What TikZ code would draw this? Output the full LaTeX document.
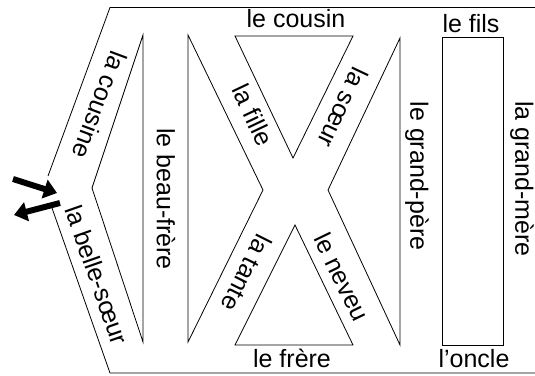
\documentclass[tikz,border=0pt]{standalone}
\usepackage{fontspec}
\setmainfont{Liberation Sans}
\usetikzlibrary{arrows.meta}
\begin{document}
\begin{tikzpicture}[x=1pt,y=-1pt,
  edge/.style={line width=0.8pt, line join=miter},
  word/.style={font=\fontsize{25}{30}\selectfont, inner sep=0pt},
  bigarrow/.style={line width=6pt, -{Triangle[length=13pt,width=19pt]}}]
\useasboundingbox (0,0) rectangle (535,375);

% outer frame, open at the left where the arrows pass
\coordinate (tl) at (110,7.5);
\coordinate (tr) at (535,7.5);
\coordinate (bl) at (110,373);
\coordinate (br) at (535,373);
\coordinate (gapU) at (48,176);
\coordinate (gapL) at (52,208);
\draw[edge] (tr) -- (tl) -- (gapU);
\draw[edge] (gapL) -- (bl) -- (br);

% inner triangles
\draw[edge] (143,35) -- (92,188) -- (143,342) -- cycle;
\draw[edge] (188,35) -- (263,190) -- (188,342) -- cycle;
\draw[edge] (235,36) -- (353,36) -- (293,158) -- cycle;
\draw[edge] (295,225) -- (235,345) -- (353,345) -- cycle;
\draw[edge] (400,38) -- (328,190) -- (400,345) -- cycle;
\draw[edge] (442,37) rectangle (503,345);

% entrance and exit arrows
\coordinate (inA) at (13,179);
\coordinate (inB) at (57,193);
\coordinate (outA) at (60,203);
\coordinate (outB) at (14,215);
\draw[bigarrow] (inA) -- (inB);
\draw[bigarrow] (outA) -- (outB);

% labels
\node[word, rotate=-110.4] (cousine) at (100,105) {la cousine};
\node[word, rotate=-70.7] (bellesoeur) at (97,275) {la belle-sœur};
\node[word, rotate=-90] (beaufrere) at (166,199) {le beau-frère};
\node[word, rotate=-64.6] (fille) at (253,115) {la fille};
\node[word, rotate=-115.3] (soeur) at (343,108) {la sœur};
\node[word, rotate=-116.6] (tante) at (247,273) {la tante};
\node[word, rotate=-64.2] (neveu) at (342,277) {le neveu};
\node[word, rotate=-90] (grandpere) at (417,176) {le grand-père};
\node[word, rotate=-90] (grandmere) at (522,179) {la grand-mère};
\node[word, anchor=base] (cousin) at (296,27) {le cousin};
\node[word, anchor=base] (fils) at (471,32) {le fils};
\node[word, anchor=base] (frere) at (292,367) {le frère};
\node[word, anchor=base] (oncle) at (474,367) {l’oncle};
\end{tikzpicture}
\end{document}
